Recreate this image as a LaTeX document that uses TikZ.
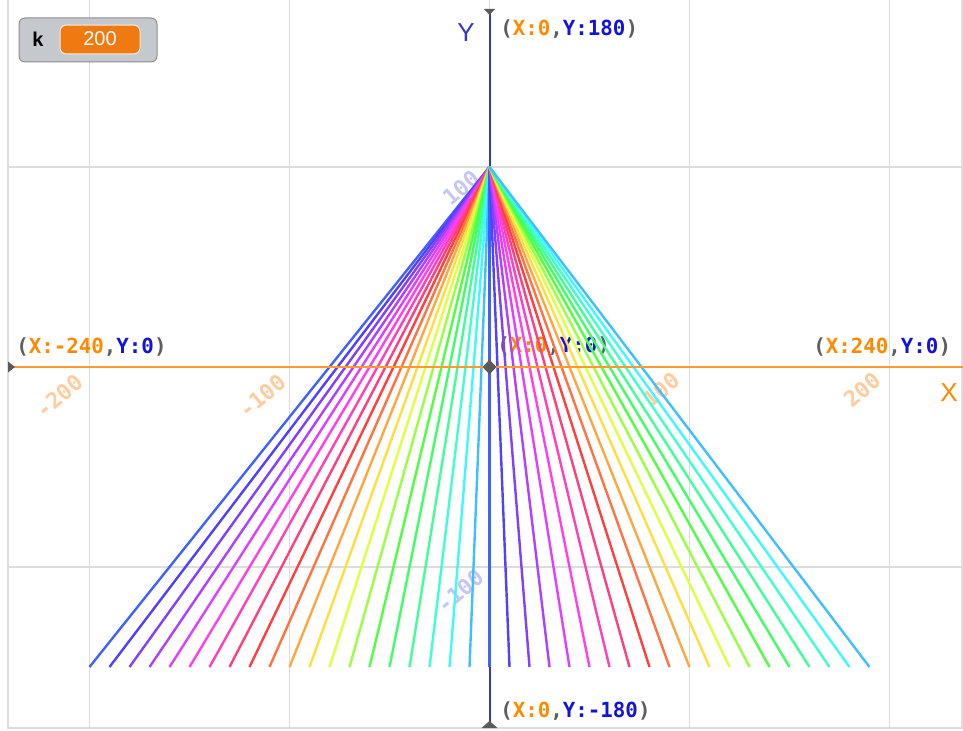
\documentclass[tikz,border=0pt]{standalone}
\usepackage{fontspec}
\setmainfont{Liberation Sans}
\newfontfamily\monofam{DejaVu Sans Mono}
\usetikzlibrary{shapes.geometric}
\definecolor{gridc}{HTML}{DDDDDD}
\definecolor{pgray}{HTML}{5E5E5E}
\definecolor{porange}{HTML}{FF8A00}
\definecolor{pblue}{HTML}{1414D8}
\definecolor{axblue}{HTML}{3535C8}
\definecolor{axorange}{HTML}{FF9A30}
\definecolor{tickor}{HTML}{FFCCA0}
\definecolor{tickbl}{HTML}{C6C6F4}
\definecolor{markc}{HTML}{5A5A5A}
\definecolor{monfill}{HTML}{C5C8CC}
\definecolor{mondraw}{HTML}{8C8C8C}
\definecolor{valfill}{HTML}{F07A12}
\newcommand{\clab}[2]{{\color{pgray}(}{\color{porange}X:#1}{\color{pgray},}{\color{pblue}Y:#2}{\color{pgray})}}
\tikzset{
  gridline/.style={draw=gridc, line width=1.1pt},
  ray/.style={line width=1.8pt},
  coordlab/.style={anchor=base west, inner sep=0pt, font=\monofam\bfseries\fontsize{15.6}{16}\selectfont},
  ticklab/.style={inner sep=0pt, rotate=40, font=\monofam\bfseries\fontsize{16.5}{17}\selectfont},
  axlab/.style={inner sep=0pt, anchor=base, font=\fontsize{19.5}{20}\selectfont},
  marker/.style={fill=markc, draw=none},
}
\begin{document}
\begin{tikzpicture}[x=0.75pt,y=-0.75pt]
\useasboundingbox (0,0) rectangle (963,731);
\fill[white] (0,0) rectangle (963,731);
% grid
\foreach \gx in {89.5,289.5,489.5,689.5,889.5} \draw[gridline] (\gx,0) -- (\gx,728);
\foreach \gy in {167,567} \draw[gridline] (8,\gy) -- (963,\gy);
\draw[gridline] (8,0) -- (8,728) -- (962,728) -- (962,0);
% tick labels
\node[ticklab, text=tickor] (tm200) at (59,396) {-200};
\node[ticklab, text=tickor] (tm100) at (262,396) {-100};
\node[ticklab, text=tickor] (tp100) at (661,390) {100};
\node[ticklab, text=tickor] (tp200) at (862,390) {200};
\node[ticklab, text=tickbl] (ty100) at (461,188) {100};
\node[ticklab, text=tickbl] (tym100) at (460,591) {-100};
% coordinate labels
\node[coordlab] (ltop) at (500,36) {\clab{0}{180}};
\node[coordlab] (lleft) at (16,353) {\clab{-240}{0}};
\node[coordlab] (lright) at (813,353) {\clab{240}{0}};
\node[coordlab] (lorig) at (497,352) {\clab{0}{0}};
\node[coordlab] (lbot) at (500,717) {\clab{0}{-180}};
% axis labels
\node[axlab, text=axblue] (ylab) at (466,42) {Y};
\node[axlab, text=porange, anchor=base west] (xlab) at (940,401) {X};
% Y axis
\coordinate (ytop) at (489.5,10);
\coordinate (ybot) at (489.5,727);
\draw[axblue, line width=1.5pt] (ytop) -- (ybot);
\fill[marker] (484,9) -- (495,9) -- (489.5,15) -- cycle;
\fill[marker] (481.5,728) -- (497.5,728) -- (489.5,721) -- cycle;
% rainbow rays
\coordinate (apex) at (489.5,167);
\foreach \c in {0,1}{
  \foreach \h [count=\k from 0] in {230,245,260,275,290,305,322,340,0,16,32,50,70,92,115,132,148,165,182,200}{
    \pgfmathtruncatemacro{\n}{\k+20*\c}
    \pgfmathsetmacro{\px}{89.5+20*\n}
    \definecolor{lc}{Hsb}{\h,0.75,1}
    \coordinate (b\n) at (\px,667);
    \draw[ray, lc] (apex) -- (b\n);
  }
}
% X axis
\coordinate (xleft) at (9,367);
\coordinate (xright) at (963,367);
\draw[axorange, line width=1.5pt] (xleft) -- (xright);
\fill[marker] (8,361.5) -- (15,367) -- (8,372.5) -- cycle;
\node[diamond, fill=markc, inner sep=0pt, minimum width=14pt*0.75, minimum height=15pt*0.75] (orig) at (489.5,367) {};
% monitor
\node[draw=mondraw, fill=monfill, rounded corners=4.5pt, line width=0.75pt, minimum width=103.5pt, minimum height=33pt, inner sep=0pt] (mon) at (88,40) {};
\node[inner sep=0pt, anchor=base, font=\bfseries\fontsize{15}{16}\selectfont] (klab) at (38,47) {k};
\node[draw=white!85!valfill, fill=valfill, rounded corners=4.5pt, line width=0.75pt, minimum width=60pt, minimum height=21.5pt, inner sep=0pt] (valbox) at (100,39.5) {};
\node[inner sep=0pt, anchor=base, text=white, font=\fontsize{15}{16}\selectfont] (kval) at (100,45.5) {200};
\end{tikzpicture}
\end{document}
